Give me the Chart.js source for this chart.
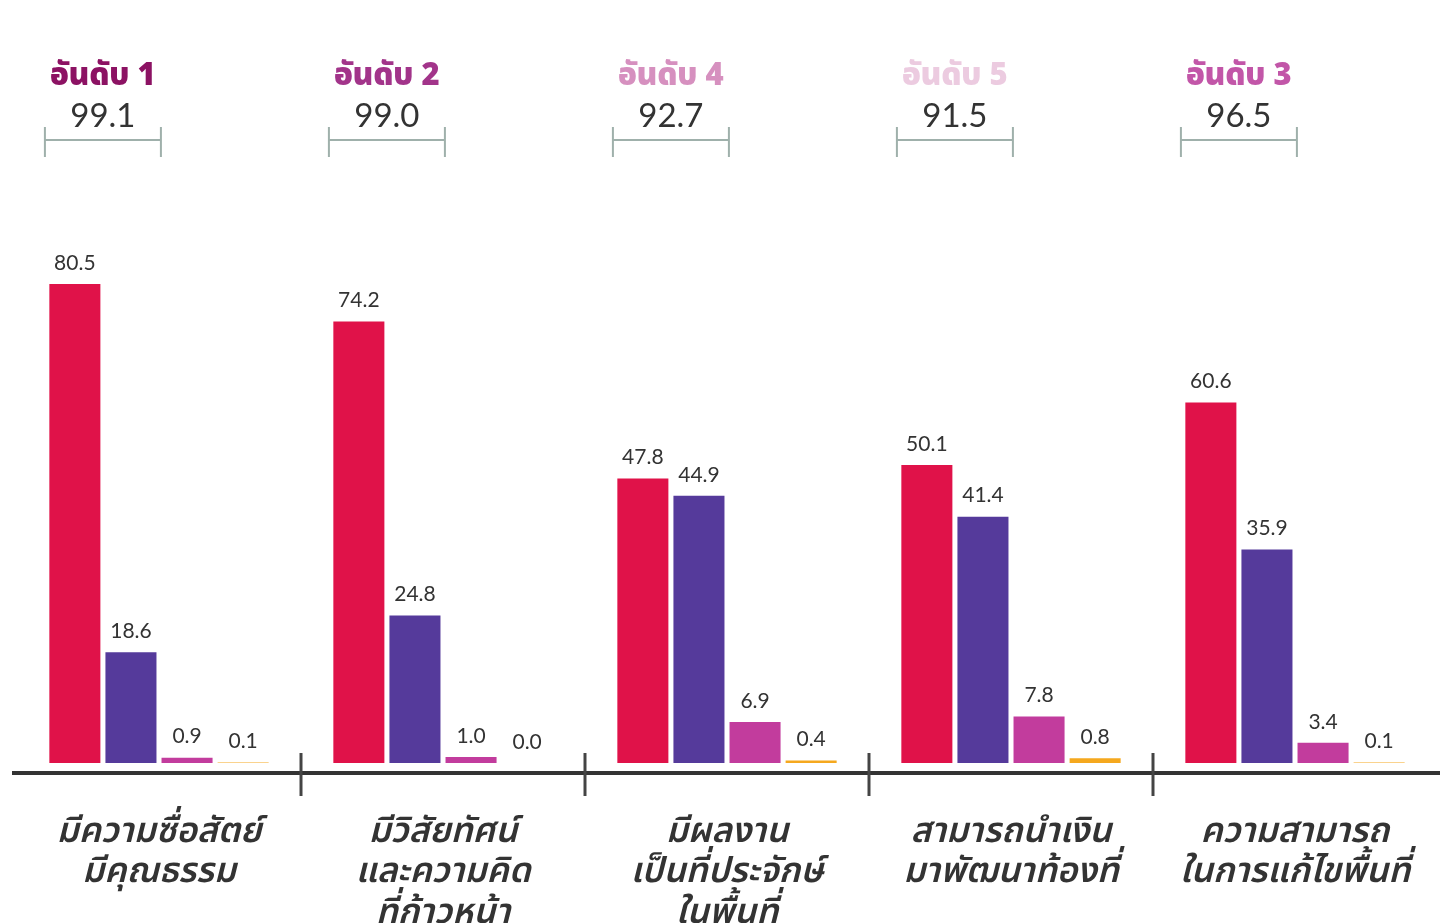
<!DOCTYPE html>
<html>
<head>
<meta charset="utf-8">
<script src="https://cdn.jsdelivr.net/npm/chart.js@4"></script>
<style>
  html, body { margin: 0; padding: 0; background: #fff; }
  #wrap { width: 1440px; height: 923px; position: relative; }
</style>
</head>
<body>
<div id="wrap"><canvas id="grafica"></canvas></div>
<script>
// categorias y series
const categories = [
  ['มีความซื่อสัตย์', 'มีคุณธรรม'],
  ['มีวิสัยทัศน์', 'และความคิด', 'ที่ก้าวหน้า'],
  ['มีผลงาน', 'เป็นที่ประจักษ์', 'ในพื้นที่'],
  ['สามารถนำเงิน', 'มาพัฒนาท้องที่'],
  ['ความสามารถ', 'ในการแก้ไขพื้นที่']
];
const serieRoja = [80.5, 74.2, 47.8, 50.1, 60.6];
const serieMorada = [18.6, 24.8, 44.9, 41.4, 35.9];
const serieMagenta = [0.9, 1.0, 6.9, 7.8, 3.4];
const serieNaranja = [0.1, 0.0, 0.4, 0.8, 0.1];
const totals = ['99.1', '99.0', '92.7', '91.5', '96.5'];
const ranks = ['อันดับ 1', 'อันดับ 2', 'อันดับ 4', 'อันดับ 5', 'อันดับ 3'];
const rankColors = ['#8c1263', '#a2348a', '#d690bf', '#eccbe0', '#c256a8'];

const thaiFont = '"Noto Sans Thai", "Noto Sans", sans-serif';
const numFont = 'Lato, "Noto Sans", sans-serif';

const overlay = {
  id: 'overlay',
  afterDatasetsDraw(chart) {
    const ctx = chart.ctx;
    const x = chart.scales.x;
    const axisY = chart.chartArea.bottom;
    ctx.save();
    // etiquetas de valor
    ctx.fillStyle = '#333';
    ctx.font = '21px ' + numFont;
    ctx.textAlign = 'center';
    ctx.textBaseline = 'middle';
    chart.data.datasets.forEach((ds, di) => {
      chart.getDatasetMeta(di).data.forEach((bar, i) => {
        ctx.fillText(ds.data[i].toFixed(1), bar.x, bar.y - 21);
      });
    });
    // rango, total y corchete
    const m0 = chart.getDatasetMeta(0).data;
    const m1 = chart.getDatasetMeta(1).data;
    m0.forEach((bar, i) => {
      const cx = (bar.x + m1[i].x) / 2;
      ctx.font = '900 31px ' + thaiFont;
      ctx.fillStyle = rankColors[i];
      ctx.fillText(ranks[i], cx, 79);
      ctx.font = '33px ' + numFont;
      ctx.fillStyle = '#333';
      ctx.fillText(totals[i], cx, 116);
      ctx.strokeStyle = '#9fb0ab';
      ctx.lineWidth = 2;
      ctx.beginPath();
      ctx.moveTo(cx - 58, 140); ctx.lineTo(cx + 58, 140);
      ctx.moveTo(cx - 58, 127); ctx.lineTo(cx - 58, 157);
      ctx.moveTo(cx + 58, 127); ctx.lineTo(cx + 58, 157);
      ctx.stroke();
    });
    // eje
    ctx.strokeStyle = '#333';
    ctx.lineWidth = 4;
    ctx.beginPath();
    ctx.moveTo(12, axisY); ctx.lineTo(1440, axisY);
    ctx.stroke();
    ctx.lineWidth = 3;
    ctx.strokeStyle = '#444';
    for (let i = 0; i < categories.length - 1; i++) {
      const bx = (x.getPixelForValue(i) + x.getPixelForValue(i + 1)) / 2;
      ctx.beginPath();
      ctx.moveTo(bx, axisY - 20); ctx.lineTo(bx, axisY + 23);
      ctx.stroke();
    }
    ctx.restore();
  }
};

document.addEventListener('DOMContentLoaded', () => {
  const ctx = document.getElementById('grafica').getContext('2d');
  new Chart(ctx, {
    type: 'bar',
    data: {
      labels: categories,
      datasets: [
        { data: serieRoja, backgroundColor: '#e01249' },
        { data: serieMorada, backgroundColor: '#553a9b' },
        { data: serieMagenta, backgroundColor: '#c23c9d' },
        { data: serieNaranja, backgroundColor: '#f5a81e' }
      ]
    },
    options: {
      responsive: true,
      maintainAspectRatio: false,
      animation: false,
      layout: { padding: { top: 168, left: 17, right: 3, bottom: 0 } },
      plugins: { legend: { display: false }, tooltip: { enabled: false } },
      datasets: { bar: { categoryPercentage: 0.79, barPercentage: 0.91 } },
      scales: {
        y: { display: false, min: -1.68, max: 100 },
        x: {
          grid: { display: false },
          border: { display: false },
          ticks: {
            padding: 34,
            color: '#333',
            maxRotation: 0,
            autoSkip: false,
            font: { family: thaiFont, size: 35, style: 'italic', weight: '600', lineHeight: 1.15 }
          },
          afterFit(scale) {
            scale.height = 150;
            scale.paddingLeft = 0;
            scale.paddingRight = 0;
          }
        }
      }
    },
    plugins: [overlay]
  });
});
</script>
</body>
</html>
